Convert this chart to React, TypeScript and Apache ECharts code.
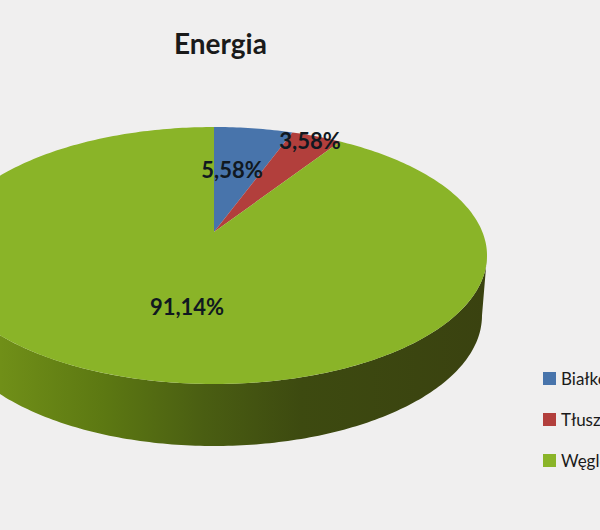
import React, { useEffect, useRef } from "react";
import * as echarts from "echarts";

const title = "Energia";
const categories = ["Białko", "Tłuszcze", "Węglowodany"];
const shares = [5.58, 3.58, 91.14];
const shareLabels = ["5,58%", "3,58%", "91,14%"];
const colors = ["#4874ab", "#b23f3c", "#8ab428"];

const BG = "#f0efef";
const LABEL_POS = [[232, 169], [310, 140], [187, 306]];
const APEX = { x: 214, y: 232 };
const PERSP = { k: 0.183, A: 268.4, B: 124.2 };
const FONT = "Lato, 'Open Sans', sans-serif";

// maps a share-angle (radians clockwise from 12 o'clock) onto the tilted disc's rim
function rim(theta: number): number[] {
  const u = Math.sin(theta);
  const v = Math.cos(theta);
  const w = 1 + PERSP.k * v;
  return [APEX.x + (PERSP.A * u) / w, APEX.y - (PERSP.B * v) / w];
}

function arcPoints(from: number, to: number): number[][] {
  const n = Math.max(4, Math.ceil(((to - from) / (2 * Math.PI)) * 360));
  const out: number[][] = [];
  for (let i = 0; i <= n; i++) out.push(rim(from + ((to - from) * i) / n));
  return out;
}

function wallPoints(): number[][] {
  const pts: number[][] = [];
  const n = 180;
  for (let i = 0; i <= n; i++) {
    const t = (Math.PI * i) / n;
    pts.push([214 + 273 * Math.cos(t), 255.5 + 128.5 * Math.sin(t)]);
  }
  for (let i = n; i >= 0; i--) {
    const t = (Math.PI * i) / n;
    pts.push([214 + 268 * Math.cos(t), 315.5 + 130.5 * Math.sin(t)]);
  }
  return pts;
}

const wallFill = {
  type: "linear",
  x: 0,
  y: 0,
  x2: 1,
  y2: 0,
  colorStops: [
    { offset: 0, color: "#7a9a1a" },
    { offset: 0.11, color: "#708f18" },
    { offset: 0.3, color: "#5c7812" },
    { offset: 0.48, color: "#4a5e12" },
    { offset: 0.66, color: "#3d4a10" },
    { offset: 1, color: "#3a4210" },
  ],
};

export default function App() {
  const ref = useRef<HTMLDivElement>(null);
  useEffect(() => {
    document.body.style.margin = "0";
    const chart = echarts.init(ref.current!, undefined, { renderer: "svg" });
    const total = shares.reduce((a, b) => a + b, 0);
    const series = categories.map((name, idx) => {
      const before = shares.slice(0, idx).reduce((a, b) => a + b, 0);
      return {
        type: "custom",
        name,
        coordinateSystem: "none",
        silent: true,
        itemStyle: { color: colors[idx] },
        data: [shares[idx]],
        renderItem: (_p: any, api: any) => {
          const from = (before / total) * 2 * Math.PI;
          const to = ((before + api.value(0)) / total) * 2 * Math.PI;
          const children: any[] = [];
          if (idx === categories.length - 1) {
            children.push({
              type: "polygon",
              shape: { points: wallPoints() },
              style: { fill: wallFill },
            });
          }
          children.push({
            type: "polygon",
            shape: { points: [[APEX.x, APEX.y], ...arcPoints(from, to)] },
            style: { fill: colors[idx] },
          });
          return { type: "group", children };
        },
      };
    });
    chart.setOption({
      animation: false,
      backgroundColor: BG,
      title: {
        text: title,
        left: 169,
        top: 24,
        textStyle: { fontFamily: FONT, fontSize: 28, fontWeight: 700, color: "#1a1a1a" },
      },
      legend: {
        orient: "vertical",
        left: 538,
        top: 365,
        data: categories,
        icon: "rect",
        itemWidth: 13,
        itemHeight: 13,
        itemGap: 24,
        selectedMode: false,
        textStyle: { fontFamily: FONT, fontSize: 17, color: "#1a1a1a", padding: [0, 0, 0, 0] },
      },
      graphic: shareLabels.map((text, i) => ({
        type: "text",
        x: LABEL_POS[i][0],
        y: LABEL_POS[i][1],
        z: 100,
        silent: true,
        style: {
          text,
          fill: "#101820",
          font: `700 22px ${FONT}`,
          align: "center",
          verticalAlign: "middle",
        },
      })),
      series,
    });
    return () => chart.dispose();
  }, []);
  return <div ref={ref} style={{ width: 600, height: 530, overflow: "hidden" }} />;
}
